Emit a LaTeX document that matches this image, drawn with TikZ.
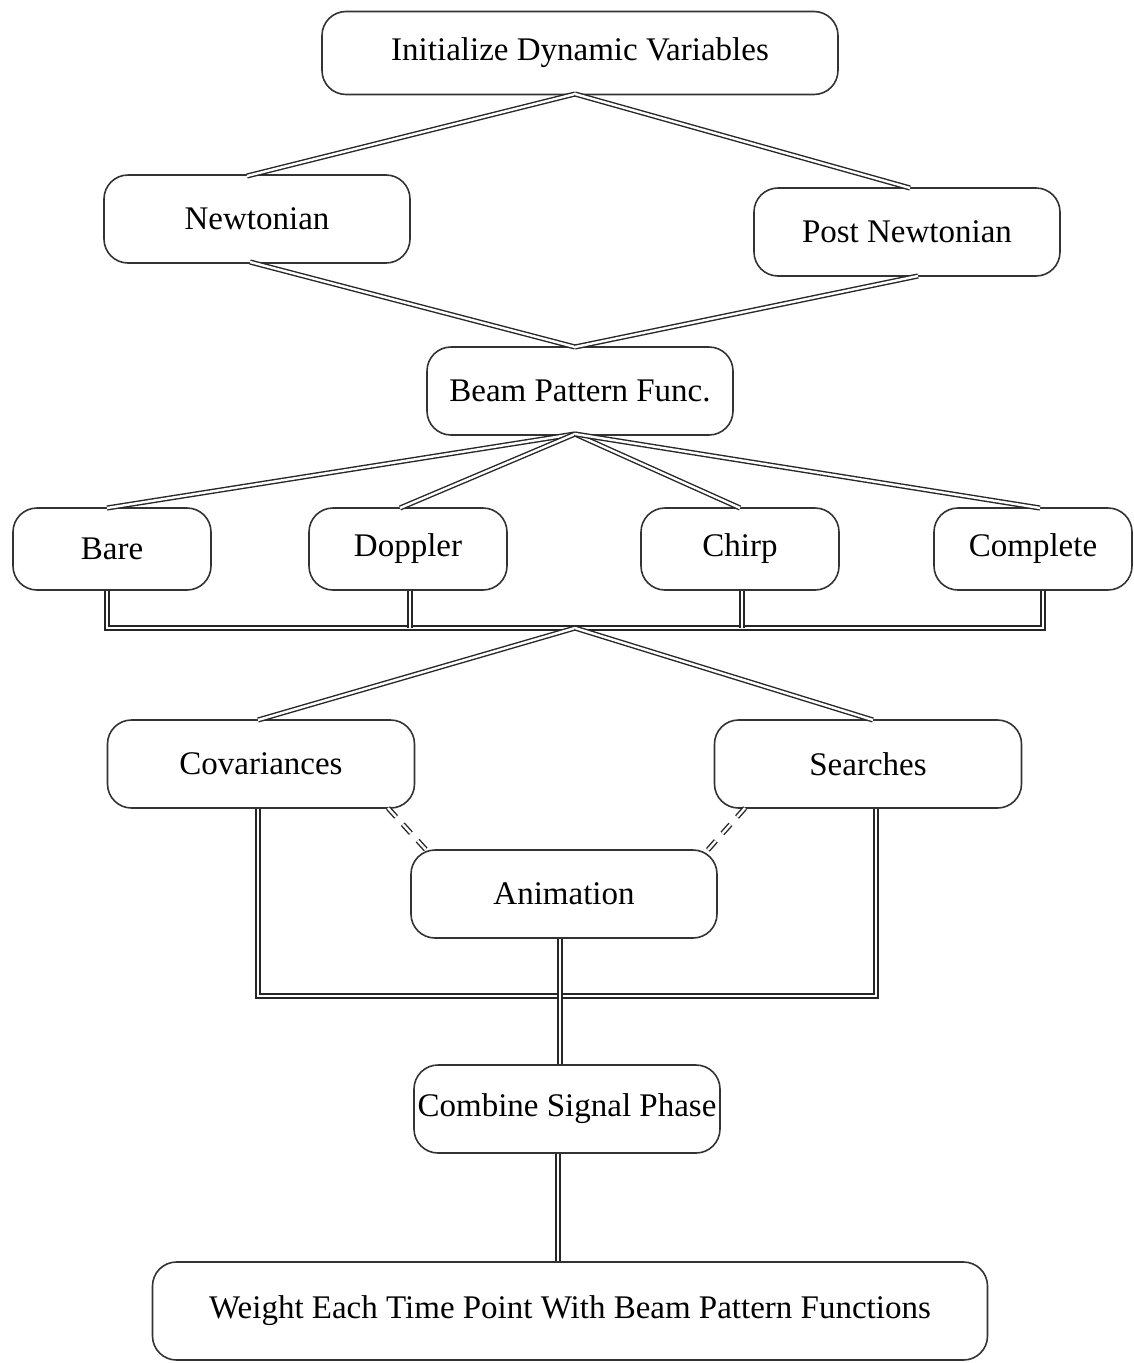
\documentclass[tikz,border=0pt]{standalone}
\usepackage{fontspec}
\setmainfont{Liberation Serif}
\begin{document}
\begin{tikzpicture}[x=1pt,y=-1pt,
  box/.style={draw=black!80, line width=1.6pt, rounded corners=24pt, fill=white, inner sep=0pt, font=\fontsize{33}{36}\selectfont},
  conn/.style={draw=black!85, double=white, double distance=2.4pt, line width=1.4pt},
  dconn/.style={conn, dash pattern=on 12pt off 10pt}]
\useasboundingbox (0,0) rectangle (1133,1363);
% nodes
\node[box, minimum width=516pt, minimum height=83pt] (init) at (580,53) {Initialize Dynamic Variables};
\node[box, minimum width=306pt, minimum height=88pt] (newt) at (257,219) {Newtonian};
\node[box, minimum width=306pt, minimum height=88pt] (post) at (907,232) {Post Newtonian};
\node[box, minimum width=306pt, minimum height=88pt] (beam) at (580,391) {Beam Pattern Func.};
\node[box, minimum width=198pt, minimum height=82pt] (bare) at (112,549) {Bare};
\node[box, minimum width=198pt, minimum height=82pt] (dopp) at (408,549) {Doppler};
\node[box, minimum width=198pt, minimum height=82pt] (chirp) at (740,549) {Chirp};
\node[box, minimum width=198pt, minimum height=82pt] (comp) at (1033,549) {Complete};
\node[box, minimum width=307pt, minimum height=88pt] (cov) at (261,764) {Covariances};
\node[box, minimum width=307pt, minimum height=88pt] (sea) at (868,764) {Searches};
\node[box, minimum width=306pt, minimum height=88pt] (anim) at (564,894) {Animation};
\node[box, minimum width=306pt, minimum height=88pt] (comb) at (567,1109) {Combine Signal Phase};
\node[box, minimum width=835pt, minimum height=98pt] (wt) at (570,1311) {Weight Each Time Point With Beam Pattern Functions};
% junctions
\coordinate (j1) at (575,94);
\coordinate (j2) at (575,347);
\coordinate (j3) at (575,434);
\coordinate (j4) at (575,628);
\coordinate (bb) at (107,628);
\coordinate (db) at (410,628);
\coordinate (cb) at (742,628);
\coordinate (kb) at (1043,628);
\coordinate (covb) at (258,996);
\coordinate (seab) at (876,996);
% connectors
\draw[conn] (j1) -- (247,176);
\draw[conn] (j1) -- (910,188);
\draw[conn] (250,262) -- (j2);
\draw[conn] (918,276) -- (j2);
\draw[conn] (j3) -- (107,508);
\draw[conn] (j3) -- (400,508);
\draw[conn] (j3) -- (740,508);
\draw[conn] (j3) -- (1040,508);
\draw[conn] (bare.south -| bb) -- (bb) -- (kb) -- (comp.south -| kb);
\draw[conn] (dopp.south -| db) -- (db);
\draw[conn] (chirp.south -| cb) -- (cb);
\draw[conn] (j4) -- (258,720);
\draw[conn] (j4) -- (873,720);
\draw[conn] (cov.south -| covb) -- (covb) -- (seab) -- (sea.south -| seab);
\draw[conn] (anim.south -| 560,0) -- (comb.north -| 560,0);
\draw[dconn] (388,808) -- (428,852);
\draw[dconn] (745,808) -- (706,852);
\draw[conn] (comb.south -| 558,0) -- (wt.north -| 558,0);
\end{tikzpicture}
\end{document}
